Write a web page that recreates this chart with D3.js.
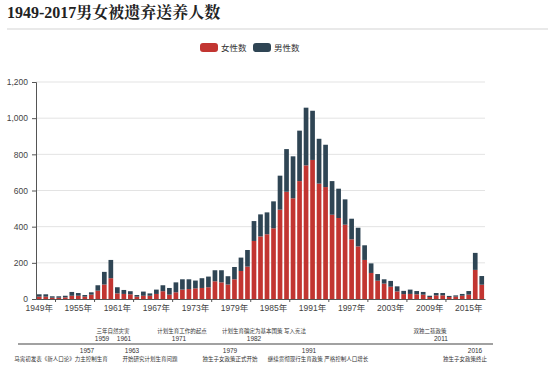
<!DOCTYPE html>
<html lang="zh">
<head>
    <meta charset="utf-8">
    <title>1949-2017男女被遗弃送养人数</title>
    <script src="https://cdnjs.cloudflare.com/ajax/libs/d3/7.8.5/d3.min.js"></script>
    <style>
        body{
            margin: 0;
            background: #fff;
        }
        svg text{
            font-family: "Liberation Sans", "Noto Sans CJK SC", sans-serif;
        }
        .title{
            font-family: "Liberation Serif", "Noto Serif CJK SC", "Noto Sans CJK SC", serif !important;
            font-weight: bold;
            font-size: 16px;
            fill: #222;
        }
        .axis text{
            fill: #444;
            font-size: 8.5px;
        }
        .note{
            font-size: 5.5px;
            fill: #333;
        }
        .noteYear{
            font-size: 6.5px;
            fill: #333;
        }
    </style>
</head>
<body>
<svg id="chart" width="554" height="384"></svg>
<script>
    // data
    var years = d3.range(1949, 2018);
    var female = [13, 13, 7, 7, 9, 18, 18, 13, 24, 46,
                  80, 115, 31, 28, 26, 13, 18, 18, 28, 43,
                  24, 37, 52, 55, 59, 61, 65, 98, 92, 80,
                  109, 155, 179, 321, 346, 358, 391, 494, 593, 557,
                  652, 739, 769, 638, 619, 466, 448, 411, 330, 291,
                  216, 144, 101, 85, 68, 42, 27, 28, 26, 24,
                  11, 20, 20, 11, 13, 18, 24, 161, 79];
    var male = [13, 13, 8, 8, 9, 21, 15, 9, 13, 30,
                70, 101, 34, 22, 17, 9, 23, 13, 24, 33,
                37, 55, 57, 54, 43, 54, 59, 61, 67, 46,
                68, 74, 92, 110, 122, 121, 149, 188, 236, 232,
                279, 319, 272, 248, 234, 186, 162, 140, 114, 103,
                81, 53, 37, 24, 32, 28, 18, 24, 18, 15,
                7, 13, 13, 6, 7, 10, 20, 94, 48];
    var seriesNames = ["女性数", "男性数"];
    var seriesColors = ["#c23531", "#2f4554"];
    var yTicks = [0, 200, 400, 600, 800, 1000, 1200];
    var xLabelYears = [1949, 1955, 1961, 1967, 1973, 1979, 1985, 1991, 1997, 2003, 2009, 2015];

    // timeline notes: above the line and below the line
    var notesAbove = [
        {text: "三年自然灾害", x: 113},
        {text: "计划生育工作的起点", x: 182},
        {text: "计划生育确定为基本国策 写入宪法", x: 264},
        {text: "双独二孩政策", x: 430}
    ];
    var yearsAbove = [
        {text: "1959", x: 102}, {text: "1961", x: 124}, {text: "1971", x: 179},
        {text: "1982", x: 254}, {text: "2011", x: 441}
    ];
    var notesBelow = [
        {year: "1957", yx: 87, text: "马寅初发表《新人口论》力主控制生育", x: 61},
        {year: "1963", yx: 132, text: "开始研究计划生育问题", x: 150},
        {year: "1979", yx: 230, text: "独生子女政策正式开始", x: 230},
        {year: "1991", yx: 309, text: "继续贯彻现行生育政策 严格控制人口增长", x: 318},
        {year: "2016", yx: 475, text: "独生子女政策终止", x: 465}
    ];

    var rows = years.map(function(y, i){
        return {year: y, "女性数": female[i], "男性数": male[i]};
    });

    var svg = d3.select("#chart");

    // title
    svg.append("text")
        .attr("class", "title")
        .attr("x", 7)
        .attr("y", 18)
        .text("1949-2017男女被遗弃送养人数");
    svg.append("line")
        .attr("x1", 7).attr("x2", 548)
        .attr("y1", 29).attr("y2", 29)
        .style("stroke", "#e2e2e2")
        .style("stroke-width", 1.5);

    var x = d3.scaleBand()
        .domain(years)
        .range([36, 485])
        .paddingInner(0.28)
        .paddingOuter(0.14);
    var y = d3.scaleLinear()
        .domain([0, 1200])
        .range([299, 82]);

    // grid
    svg.append("g")
        .selectAll("line")
        .data(yTicks.slice(1))
        .enter()
        .append("line")
        .attr("x1", 36).attr("x2", 485)
        .attr("y1", d => y(d)).attr("y2", d => y(d))
        .style("stroke", "#e3e3e3")
        .style("stroke-width", 1);

    // bars
    var stack = d3.stack().keys(seriesNames)(rows);
    svg.append("g")
        .selectAll("g")
        .data(stack)
        .enter()
        .append("g")
        .style("fill", (d, i) => seriesColors[i])
        .selectAll("rect")
        .data(d => d)
        .enter()
        .append("rect")
        .attr("x", d => x(d.data.year))
        .attr("width", x.bandwidth())
        .attr("y", d => y(d[1]))
        .attr("height", d => y(d[0]) - y(d[1]));

    // y axis
    var yAxis = svg.append("g")
        .attr("class", "axis")
        .attr("transform", "translate(36,0)")
        .call(d3.axisLeft(y).tickValues(yTicks).tickFormat(d3.format(",")).tickSize(4).tickPadding(4));
    yAxis.select(".domain").style("stroke", "#555");
    yAxis.selectAll(".tick line").style("stroke", "#555");

    // x axis
    var xAxis = svg.append("g")
        .attr("class", "axis")
        .attr("transform", "translate(0,299)")
        .call(d3.axisBottom(x).tickValues(xLabelYears).tickFormat(d => d + "年").tickSize(0).tickPadding(6));
    xAxis.select(".domain").style("stroke", "#555");
    // small ticks sit on band edges halfway between labels
    xAxis.selectAll(".edgeTick")
        .data(xLabelYears.map(d => d + 3).filter(d => d <= 2017))
        .enter()
        .append("line")
        .attr("class", "edgeTick")
        .attr("x1", d => x(d) - x.step() * x.paddingInner() / 2)
        .attr("x2", d => x(d) - x.step() * x.paddingInner() / 2)
        .attr("y1", 0).attr("y2", 3)
        .style("stroke", "#555");

    // legend
    var legend = svg.append("g")
        .selectAll("g")
        .data(seriesNames)
        .enter()
        .append("g")
        .attr("transform", (d, i) => "translate(" + (200 + i * 53) + ",43)");
    legend.append("rect")
        .attr("width", 18).attr("height", 9)
        .attr("rx", 3)
        .style("fill", (d, i) => seriesColors[i]);
    legend.append("text")
        .attr("x", 21).attr("y", 8)
        .style("font-size", "8.5px")
        .style("fill", "#333")
        .text(d => d);

    // timeline below the chart
    svg.append("line")
        .attr("x1", 18).attr("x2", 493)
        .attr("y1", 344).attr("y2", 344)
        .style("stroke", "#444")
        .style("stroke-width", 1.2);

    svg.append("g")
        .selectAll("text")
        .data(notesAbove)
        .enter()
        .append("text")
        .attr("class", "note")
        .attr("text-anchor", "middle")
        .attr("x", d => d.x).attr("y", 333)
        .text(d => d.text);
    svg.append("g")
        .selectAll("text")
        .data(yearsAbove)
        .enter()
        .append("text")
        .attr("class", "noteYear")
        .attr("text-anchor", "middle")
        .attr("x", d => d.x).attr("y", 341)
        .text(d => d.text);

    var below = svg.append("g")
        .selectAll("g")
        .data(notesBelow)
        .enter()
        .append("g");
    below.append("text")
        .attr("class", "noteYear")
        .attr("text-anchor", "middle")
        .attr("x", d => d.yx).attr("y", 353)
        .text(d => d.year);
    below.append("text")
        .attr("class", "note")
        .attr("text-anchor", "middle")
        .attr("x", d => d.x).attr("y", 361)
        .text(d => d.text);
</script>
</body>
</html>
